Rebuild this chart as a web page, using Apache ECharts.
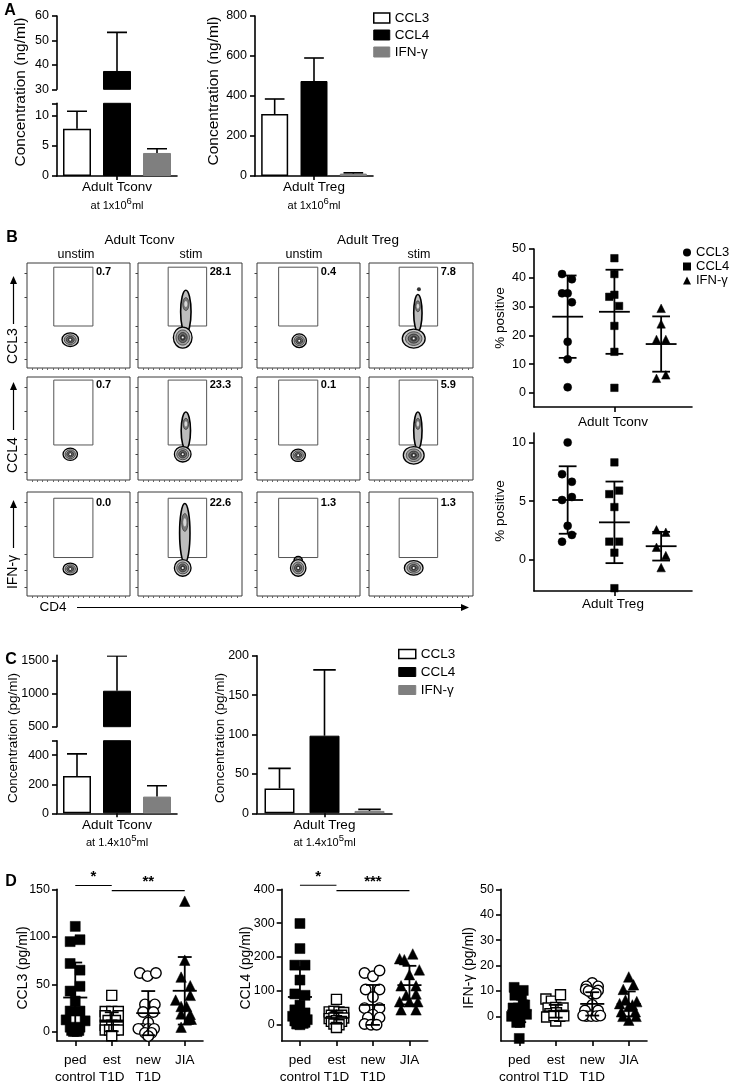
<!DOCTYPE html>
<html><head><meta charset="utf-8">
<script src="https://cdn.jsdelivr.net/npm/echarts@6/dist/echarts.min.js"></script>
<style>html,body{margin:0;padding:0;background:#fff}#c{width:739px;height:1086px}</style>
</head><body><div id="c"></div>
<script>
const FONT='"Liberation Sans", Arial, Helvetica, sans-serif';

// ================= DATA =================
// Panels A and C: bar means and SD
const barCats=['CCL3','CCL4','IFN-γ'];
const aTconvMean=[7.8,37.5,3.8];
const aTconvSD=[2.9,15.8,0.7];
const aTregMean=[310,475,12];
const aTregSD=[75,115,4];
const cTconvMean=[257,1045,115];
const cTconvSD=[152,525,75];
const cTregMean=[31.5,98.5,3];
const cTregSD=[25.5,83.5,2];
const aTconvLowTicks=[0,5,10];
const aTconvHighTicks=[30,40,50,60];
const aTregTicks=[0,200,400,600,800];
const cTconvLowTicks=[0,200,400];
const cTconvHighTicks=[500,1000,1500];
const cTregTicks=[0,50,100,150,200];

// Panel B flow plots
const flowRowNames=['CCL3','CCL4','IFN-γ'];
const flowColNames=['unstim','stim','unstim','stim'];
const flowGroupNames=['Adult Tconv','Adult Treg'];
const flowPct=[[0.7,28.1,0.4,7.8],[0.7,23.3,0.1,5.9],[0.0,22.6,1.3,1.3]];
const gateX=[[26,64],[29,66],[21,59],[29,66]];
const gateY=[[40,96],[34,97],[37,94]];
// main population: [cx, cy, halfWidth, halfHeight]
const flowBlob=[
  [[42,27,8,6.5],[43,29,9,10],[41,26,7,6.5],[43,28,11,9]],
  [[42,25,7,6],[43,25,8,7.5],[40,24,7,6],[43,24,10,8.5]],
  [[42,26,7,5.6],[43,27,8,8],[40,27,7.5,8],[43,27,9,7]]
];
// positive tail: [cx, bottom, top, halfWidth]
const flowTail=[
  [null,[46,33,74,5],null,[47,35,70,4]],
  [null,[46,30,66,4.5],null,[47,30,66,4]],
  [null,[45,32,89,5],[40,30,38,4],null]
];
const flowDots=[[[],[],[],[[48,75]]],[[],[],[],[]],[[],[],[],[]]];
const flowYTicks=[8,25,40,67,90];
const flowXTicks=[5,10,15,20,25,30,35,40,45,50,55,60,65,70,75,80,85,90,95];

// Panel B % positive: [jitter, value]
const bNames=['CCL3','CCL4','IFN-γ'];
const bTconvCCL3=[[-0.12,41.3],[0.09,39.5],[-0.12,34.6],[0,34.6],[0.09,31.5],[0,17.8],[0,11.7],[0,2.0]];
const bTconvCCL4=[[0,46.8],[0,41.3],[-0.11,33.4],[0,34.1],[0.1,30.2],[0,23.3],[0,14.3],[0,1.8]];
const bTconvIFN=[[0,29.4],[0,24.0],[-0.1,18.6],[0.1,18.6],[-0.1,5.1],[0.1,6.3]];
const bTconvMean=[26.5,28.2,17.0];
const bTconvSD=[14.3,14.6,9.6];
const bTregCCL3=[[0,10.0],[-0.12,7.3],[0.09,6.65],[-0.12,5.1],[0.09,5.35],[0,2.9],[0.09,2.13],[-0.12,1.56]];
const bTregCCL4=[[0,8.3],[-0.11,5.6],[0.1,5.9],[0,4.5],[-0.11,1.56],[0.1,1.56],[0,0.62],[0,-2.4]];
const bTregIFN=[[-0.1,2.56],[0.1,2.36],[-0.1,1.08],[0.1,0.37],[0,-0.65]];
const bTregMean=[5.1,3.2,1.17];
const bTregSD=[2.87,3.47,1.22];
const bTconvTicks=[0,10,20,30,40,50];
const bTregTicks=[0,5,10];

// Panel D: [jitter, value]
const dCats=['ped\ncontrol','est\nT1D','new\nT1D','JIA'];
const dCCL3=[
  [[0,111],[-0.14,95],[0.13,97],[-0.14,72],[0.13,65],[0.13,48],[-0.14,43],[0,32.5],[-0.14,22],[0.13,22],[-0.25,12.7],[0.27,11.7],[-0.14,5],[0.13,5],[-0.1,1.5],[0,1],[0.1,1.5],[0.05,0.5],[-0.05,0.5]],
  [[0,38.5],[-0.18,21.5],[0,21.5],[0.18,21.5],[-0.18,17],[0.18,17],[-0.1,12],[0.1,12],[-0.18,7],[0,7],[0.18,7],[-0.18,2],[-0.06,2],[0.06,2],[0.18,2],[0,-4]],
  [[-0.23,62],[-0.02,58.7],[0.21,62],[-0.09,29],[0.18,29],[-0.14,21],[0.14,21],[0,10],[-0.16,3.3],[0,3.3],[0.16,3.3],[-0.27,3.3],[-0.09,-1],[0.09,-1],[0,-4.4]],
  [[0,137.5],[0,75.5],[-0.1,57.7],[0.15,48.6],[0.15,38.5],[-0.25,33.5],[-0.1,26.8],[0.05,26.8],[-0.1,19],[0.15,18.4],[0.1,13.4],[0.18,13.4],[-0.1,5]]
];
const dCCL3Mean=[36.2,10.7,19.8,43.3];
const dCCL3SD=[36.8,10,23.2,35.5];
const dCCL4=[
  [[0,299],[0,225],[-0.14,176],[0.14,176],[0,132],[-0.14,91],[0.14,87],[0,58],[-0.14,44],[0.14,35],[0,21],[-0.14,11],[0.14,7],[-0.09,2],[0,0],[0.09,4],[0.2,15],[-0.2,25]],
  [[0,75],[-0.2,38],[-0.07,40],[0.07,38],[0.2,36],[-0.14,28],[0,25],[0.14,28],[-0.2,18],[-0.07,20],[0.07,18],[0.2,20],[-0.14,10],[0,12],[0.14,10],[-0.07,2],[0.07,0],[0,-8]],
  [[-0.23,153],[0,143],[0.18,160],[-0.2,104],[0.18,104],[0,82],[-0.23,49],[0.18,49],[0,30],[-0.14,21],[0.18,21],[-0.23,2],[-0.05,0],[0.1,0]],
  [[-0.27,195],[-0.14,192],[0.09,209],[0.27,162],[0,148],[-0.23,115],[0.18,115],[-0.09,87],[0.18,91],[-0.27,68],[0,68],[0.23,68],[-0.23,44],[0.18,44]]
];
const dCCL4Mean=[82,20,58.5,117];
const dCCL4SD=[88,17,59,57];
const dIFN=[
  [[-0.14,11.4],[0.11,10.2],[-0.12,8.3],[0.06,8.3],[0.11,4.5],[-0.17,3.3],[-0.03,3.3],[-0.21,0],[0.2,0.8],[0.02,-0.5],[-0.07,-2.4],[0.02,-2.4],[0,-8.7],[0.15,4.5],[-0.1,1],[0.1,2]],
  [[-0.27,6.8],[-0.12,6],[0.13,8.5],[-0.21,3.3],[0,3.5],[0.2,3.3],[-0.16,1],[0.02,1.4],[0.16,0.5],[-0.25,-0.25],[0,-1.8],[0.11,0],[-0.05,0.3],[0.22,0.2]],
  [[0,13.1],[-0.16,11.8],[0.16,11.8],[-0.18,10.6],[0.16,10.2],[0,8.9],[0,4.5],[-0.2,2.3],[0.16,2.3],[-0.16,0.1],[-0.03,0.1],[0.11,0.1],[0.22,0.3],[-0.25,0.3],[-0.1,10],[0.1,9]],
  [[0,15.5],[0.13,12.4],[-0.15,10.6],[0.22,5.8],[-0.09,6.4],[0,3.9],[-0.2,1.8],[0.18,1.8],[0,-1.5],[-0.16,0],[0.1,4.5],[-0.25,5],[0.2,0]]
];
const dIFNMean=[2.3,2,4.9,4.9];
const dIFNSD=[4.6,2.5,4.6,4.9];
const dCCL3Ticks=[0,50,100,150];
const dCCL4Ticks=[0,100,200,300,400];
const dIFNTicks=[0,10,20,30,40,50];
// significance: [fromGroup, toGroup, y, stars]
const dCCL3Sig=[[0,1,154,1],[1,3,148.6,2]];
const dCCL4Sig=[[0,1,412,1],[1,3,396,3]];

// ================= BUILD =================
function merge(a,b){for(const k in b){if(b[k]&&typeof b[k]==='object'&&!Array.isArray(b[k])&&a[k]&&typeof a[k]==='object')merge(a[k],b[k]);else a[k]=b[k];}return a;}
const grids=[],xAxes=[],yAxes=[],series=[],graphics=[],legends=[];
function addGrid(l,t,w,h,extra){grids.push(merge({left:l,top:t,width:w,height:h},extra||{}));return grids.length-1;}
function addX(o){xAxes.push(o);return xAxes.length-1;}
function addY(o){yAxes.push(o);return yAxes.length-1;}
function axLine(){return {show:true,onZero:false,lineStyle:{color:'#000',width:1.6}};}
function axTick(vals,len){return {show:true,length:len||5,customValues:vals,lineStyle:{color:'#000',width:1.6}};}
function axLabel(vals,fs,margin){return {show:true,customValues:vals,formatter:(v)=>String(v),color:'#000',fontSize:fs||12.5,fontFamily:FONT,margin:margin||8};}
function valY(g,min,max,ticks,labels,extra){
  return addY(merge({type:'value',gridIndex:g,min:min,max:max,splitLine:{show:false},axisLine:axLine(),axisTick:axTick(ticks),axisLabel:axLabel(labels)},extra||{}));
}
const barStyle=[
  {color:'#fff',borderColor:'#000',borderWidth:1.5},
  {color:'#000',borderColor:'#000',borderWidth:1},
  {color:'#7f7f7f',borderColor:'#7f7f7f',borderWidth:1}
];
function errUp(params,api){
  const x=api.value(0),m=api.value(1),s=api.value(2);
  const p0=api.coord([x,m]),p1=api.coord([x,m+s]);
  const hw=api.size([1,0])[0]*0.25;
  const st={stroke:'#000',lineWidth:1.6};
  return {type:'group',children:[
    {type:'line',shape:{x1:p0[0],y1:p0[1],x2:p1[0],y2:p1[1]},style:st},
    {type:'line',shape:{x1:p1[0]-hw,y1:p1[1],x2:p1[0]+hw,y2:p1[1]},style:st}
  ]};
}
function addBars(xi,yi,means,sds,w,idxs){
  idxs.forEach(i=>{
    series.push({type:'bar',name:barCats[i],xAxisIndex:xi,yAxisIndex:yi,barWidth:w,barGap:'-100%',
      data:means.map((v,j)=>j===i?v:'-'),itemStyle:barStyle[i],silent:true});
  });
  series.push({type:'custom',xAxisIndex:xi,yAxisIndex:yi,clip:true,silent:true,z:5,renderItem:errUp,
    data:means.map((m,i)=>[i,m,sds[i]])});
}
function richName(){return {rich:{
  t:{fontSize:13.5,fontFamily:FONT,color:'#000',lineHeight:17},
  s:{fontSize:11,fontFamily:FONT,color:'#000',lineHeight:15,verticalAlign:'bottom'},
  sup:{fontSize:9.5,fontFamily:FONT,color:'#000',verticalAlign:'top'}}};}
function barXAxis(g,title,conc,exp){
  return addX({type:'category',gridIndex:g,data:barCats,axisLine:axLine(),
    axisTick:{show:true,alignWithLabel:true,interval:(i)=>i===1,length:4,lineStyle:{color:'#000',width:1.6}},
    axisLabel:{show:false},name:'{t|'+title+'}\n{s|at '+conc+'}{sup|'+exp+'}{s|ml}',
    nameLocation:'middle',nameGap:3,nameTextStyle:richName()});
}
function hiddenCat(g){return addX({type:'category',gridIndex:g,data:barCats,show:false});}
function gtext(text,x,y,o){graphics.push(merge({type:'text',x:x,y:y,silent:true,style:{text:text,fill:'#000',fontSize:13,fontFamily:FONT,align:'center',verticalAlign:'middle'}},o||{}));}
function vtext(text,x,y,fs){gtext(text,x,y,{rotation:Math.PI/2,style:{fontSize:fs}});}

// ---- Panel A ----
let g,xi,yi;
g=addGrid(57,103.3,120,72.7);
xi=barXAxis(g,'Adult Tconv','1x10','6');
yi=valY(g,0,12,[0,5,10,12],aTconvLowTicks);
addBars(xi,yi,aTconvMean,aTconvSD,28,[0,1,2]);
g=addGrid(57,16,120,73.3);
xi=hiddenCat(g);
yi=valY(g,30,60,aTconvHighTicks,aTconvHighTicks);
addBars(xi,yi,aTconvMean,aTconvSD,28,aTconvMean.map((v,i)=>i).filter(i=>aTconvMean[i]>12));
vtext('Concentration (ng/ml)',21,92,15.5);

g=addGrid(255,16,118,160);
xi=barXAxis(g,'Adult Treg','1x10','6');
yi=valY(g,0,800,aTregTicks,aTregTicks);
addBars(xi,yi,aTregMean,aTregSD,27,[0,1,2]);
vtext('Concentration (ng/ml)',213.5,91,15.5);

function barLegend(left,top,w,h,gap){
  legends.push({left:left,top:top,orient:'vertical',padding:0,itemWidth:w,itemHeight:h,itemGap:gap,selectedMode:false,
    textStyle:{fontSize:13.5,fontFamily:FONT,color:'#000'},
    data:barCats.map((n,i)=>({name:n,icon:'rect',itemStyle:barStyle[i]}))});
}
barLegend(373,11,16,10,3);

// ---- Panel B flow ----
const flowColLeft=[27,138,257,369],flowColW=[103,104,103,104];
const flowRowTop=[263,377,492],flowRowH=[105,103,104];
function gateItem(params,api){
  const p0=api.coord([api.value(0),api.value(3)]),p1=api.coord([api.value(1),api.value(2)]);
  return {type:'group',children:[
    {type:'rect',shape:{x:p0[0],y:p0[1],width:p1[0]-p0[0],height:p1[1]-p0[1]},style:{fill:'none',stroke:'#555',lineWidth:1}},
    {type:'text',x:p1[0]+3,y:p0[1]-1,style:{text:api.value(4).toFixed(1),fill:'#000',fontSize:11,fontWeight:'bold',fontFamily:FONT,align:'left',verticalAlign:'top'}}
  ]};
}
function blobItem(params,api){
  const c=api.coord([api.value(0),api.value(1)]);
  const s=api.size([api.value(2),api.value(3)]);
  const ks=[1,0.72,0.48,0.26],fills=['#cdcdcd','#9c9c9c','#6c6c6c','#3c3c3c'],lws=[1.3,0.7,0.7,0.6];
  const ch=ks.map((k,i)=>({type:'ellipse',shape:{cx:c[0],cy:c[1],rx:s[0]*k,ry:s[1]*k},style:{fill:fills[i],stroke:i===0?'#000':'#222',lineWidth:lws[i]}}));
  ch.push({type:'circle',shape:{cx:c[0],cy:c[1],r:1},style:{fill:'#fff'}});
  return {type:'group',children:ch};
}
function tailItem(params,api){
  const cx=api.value(0),yb=api.value(1),yt=api.value(2),hw=api.value(3);
  const c=api.coord([cx,(yb+yt)/2]);const s=api.size([hw,(yt-yb)/2]);
  const ci=api.coord([cx,yb+(yt-yb)*0.68]);
  return {type:'group',children:[
    {type:'ellipse',shape:{cx:c[0],cy:c[1],rx:s[0],ry:s[1]},style:{fill:'#bdbdbd',stroke:'#000',lineWidth:1.6}},
    {type:'ellipse',shape:{cx:ci[0],cy:ci[1],rx:s[0]*0.6,ry:s[1]*0.3},style:{fill:'#7a7a7a',stroke:'#222',lineWidth:0.6}},
    {type:'ellipse',shape:{cx:ci[0],cy:ci[1],rx:s[0]*0.3,ry:s[1]*0.14},style:{fill:'#d8d8d8'}}
  ]};
}
for(let r=0;r<3;r++){
  for(let c=0;c<4;c++){
    g=addGrid(flowColLeft[c],flowRowTop[r],flowColW[c],flowRowH[r],{show:true,borderColor:'#3a3a3a',borderWidth:1});
    xi=addX({type:'value',gridIndex:g,min:0,max:100,splitLine:{show:false},axisLine:{show:false,onZero:false},axisLabel:{show:false},
      axisTick:{show:true,length:2,customValues:flowXTicks,lineStyle:{color:'#666',width:1}}});
    yi=addY({type:'value',gridIndex:g,min:0,max:100,splitLine:{show:false},axisLine:{show:false,onZero:false},axisLabel:{show:false},
      axisTick:{show:true,length:2.5,customValues:flowYTicks,lineStyle:{color:'#444',width:1}}});
    series.push({type:'custom',xAxisIndex:xi,yAxisIndex:yi,silent:true,renderItem:gateItem,
      data:[[gateX[c][0],gateX[c][1],gateY[r][0],gateY[r][1],flowPct[r][c]]]});
    if(flowTail[r][c]) series.push({type:'custom',xAxisIndex:xi,yAxisIndex:yi,silent:true,renderItem:tailItem,data:[flowTail[r][c]]});
    series.push({type:'custom',xAxisIndex:xi,yAxisIndex:yi,silent:true,renderItem:blobItem,data:[flowBlob[r][c]]});
    if(flowDots[r][c].length) series.push({type:'scatter',xAxisIndex:xi,yAxisIndex:yi,silent:true,symbolSize:4,itemStyle:{color:'#000'},data:flowDots[r][c]});
  }
}
gtext('B',12,238,{style:{fontSize:16,fontWeight:'bold'}});
gtext(flowGroupNames[0],139.5,240,{style:{fontSize:13.5}});
gtext(flowGroupNames[1],368,240,{style:{fontSize:13.5}});
[76,191,304,419].forEach((x,i)=>gtext(flowColNames[i],x,255,{style:{fontSize:12.5}}));
function arrowUp(x,yFrom,yTo){
  graphics.push({type:'line',silent:true,shape:{x1:x,y1:yFrom,x2:x,y2:yTo+5},style:{stroke:'#000',lineWidth:1.2}});
  graphics.push({type:'polygon',silent:true,shape:{points:[[x,yTo],[x-3.5,yTo+8],[x+3.5,yTo+8]]},style:{fill:'#000'}});
}
vtext(flowRowNames[0],13.5,346,14); arrowUp(13.5,324,276);
vtext(flowRowNames[1],13.5,455,14); arrowUp(13.5,430,382);
vtext(flowRowNames[2],13.5,572,14); arrowUp(13.5,548,500);
gtext('CD4',53,607,{style:{fontSize:13.5}});
graphics.push({type:'line',silent:true,shape:{x1:77,y1:607.5,x2:463,y2:607.5},style:{stroke:'#000',lineWidth:1.2}});
graphics.push({type:'polygon',silent:true,shape:{points:[[469,607.5],[461,604],[461,611]]},style:{fill:'#000'}});

// ---- Panel B scatter ----
function meanSD(params,api){
  const x=api.value(0),m=api.value(1),s=api.value(2);
  const pm=api.coord([x,m]),pt=api.coord([x,m+s]),pb=api.coord([x,m-s]);
  const u=api.size([1,0])[0];const mh=0.33*u,ch=0.19*u;
  const st={stroke:'#000',lineWidth:1.8};
  return {type:'group',children:[
    {type:'line',shape:{x1:pm[0]-mh,y1:pm[1],x2:pm[0]+mh,y2:pm[1]},style:st},
    {type:'line',shape:{x1:pt[0],y1:pt[1],x2:pb[0],y2:pb[1]},style:st},
    {type:'line',shape:{x1:pt[0]-ch,y1:pt[1],x2:pt[0]+ch,y2:pt[1]},style:st},
    {type:'line',shape:{x1:pb[0]-ch,y1:pb[1],x2:pb[0]+ch,y2:pb[1]},style:st}
  ]};
}
function addGroups(xi,yi,groups,names,symbols,sizes,fills,means,sds){
  groups.forEach((pts,i)=>{
    series.push({type:'scatter',name:names[i],xAxisIndex:xi,yAxisIndex:yi,silent:true,symbol:symbols[i],symbolSize:sizes[i],
      itemStyle:{color:fills[i],borderColor:'#000',borderWidth:fills[i]==='#fff'?1.4:0.5,opacity:1},z:2,
      data:pts.map(p=>[i+p[0],p[1]])});
  });
  series.push({type:'custom',xAxisIndex:xi,yAxisIndex:yi,silent:true,z:4,renderItem:meanSD,data:means.map((m,i)=>[i,m,sds[i]])});
}
function bX(g,name,gap){
  return addX({type:'value',gridIndex:g,min:-0.72,max:2.66,splitLine:{show:false},axisLine:axLine(),
    axisTick:axTick([1],5),axisLabel:{show:false},name:name,nameLocation:'middle',nameGap:gap,
    nameTextStyle:{fontSize:13.5,fontFamily:FONT,color:'#000'}});
}
const bSym=['circle','rect','triangle'],bSize=[8,7.5,8.5],bFill=['#000','#000','#000'];
g=addGrid(534,249,158,158);
xi=bX(g,flowGroupNames[0],8);
yi=valY(g,-4.86,50,bTconvTicks,bTconvTicks);
addGroups(xi,yi,[bTconvCCL3,bTconvCCL4,bTconvIFN],bNames,bSym,bSize,bFill,bTconvMean,bTconvSD);
vtext('% positive',500,318,13.5);
g=addGrid(534,433,158,158);
xi=bX(g,flowGroupNames[1],6);
yi=valY(g,-2.64,10.8,bTregTicks,bTregTicks);
addGroups(xi,yi,[bTregCCL3,bTregCCL4,bTregIFN],bNames,bSym,bSize,bFill,bTregMean,bTregSD);
vtext('% positive',500,511,13.5);
legends.push({left:683,top:246,orient:'vertical',padding:0,itemWidth:8,itemHeight:8,itemGap:1,selectedMode:false,
  textStyle:{fontSize:13,fontFamily:FONT,color:'#000'},
  data:bNames.map((n,i)=>({name:n,icon:bSym[i],itemStyle:{color:'#000',borderWidth:0}}))});

// ---- Panel C ----
g=addGrid(57,740.7,120,72.6);
xi=barXAxis(g,'Adult Tconv','1.4x10','5');
yi=valY(g,0,500,[0,200,400,500],cTconvLowTicks);
addBars(xi,yi,cTconvMean,cTconvSD,28,[0,1,2]);
g=addGrid(57,655.4,120,71.3);
xi=hiddenCat(g);
yi=valY(g,500,1580,cTconvHighTicks,cTconvHighTicks);
addBars(xi,yi,cTconvMean,cTconvSD,28,cTconvMean.map((v,i)=>i).filter(i=>cTconvMean[i]>500));
vtext('Concentration (pg/ml)',13,738,13.5);
g=addGrid(257,655.7,135,157.6);
xi=barXAxis(g,'Adult Treg','1.4x10','5');
yi=valY(g,0,200,cTregTicks,cTregTicks);
addBars(xi,yi,cTregMean,cTregSD,30,[0,1,2]);
vtext('Concentration (pg/ml)',220,738,13.5);
barLegend(398,647,17,9,4);

// ---- Panel D ----
function sigItem(params,api){
  const a=api.coord([api.value(0),api.value(2)]),b=api.coord([api.value(1),api.value(2)]);
  const n=api.value(3);
  return {type:'group',children:[
    {type:'line',shape:{x1:a[0],y1:a[1],x2:b[0],y2:b[1]},style:{stroke:'#000',lineWidth:1.2}},
    {type:'text',x:(a[0]+b[0])/2,y:a[1]-1,style:{text:'*'.repeat(n),fill:'#000',fontSize:15,fontWeight:'bold',fontFamily:FONT,align:'center',verticalAlign:'bottom'}}
  ]};
}
const dSym=['rect','rect','circle','triangle'],dSize=[10,10,10.5,10.5],dFill=['#000','#fff','#fff','#000'];
function dPlot(left,min,max,ticks,groups,means,sds,sig,title,tx){
  const g=addGrid(left,889.3,146,158.4);
  const xi=addX({type:'value',gridIndex:g,min:-0.5,max:3.5,splitLine:{show:false},axisLine:axLine(),
    axisTick:axTick([0,1,2,3],5),
    axisLabel:{show:true,customValues:[0,1,2,3],formatter:(v)=>dCats[Math.round(v)],color:'#000',fontSize:13.5,lineHeight:17,fontFamily:FONT,margin:11}});
  const yi=addY({type:'value',gridIndex:g,min:min,max:max,splitLine:{show:false},axisLine:axLine(),axisTick:axTick(ticks,5),axisLabel:axLabel(ticks,12.5,7)});
  addGroups(xi,yi,groups,['g0','g1','g2','g3'],dSym,dSize,dFill,means,sds);
  if(sig) series.push({type:'custom',xAxisIndex:xi,yAxisIndex:yi,silent:true,clip:false,renderItem:sigItem,data:sig});
  vtext(title,tx,968,14);
}
dPlot(57,-9.5,150,dCCL3Ticks,dCCL3,dCCL3Mean,dCCL3SD,dCCL3Sig,'CCL3 (pg/ml)',23);
dPlot(281.7,-48,400,dCCL4Ticks,dCCL4,dCCL4Mean,dCCL4SD,dCCL4Sig,'CCL4 (pg/ml)',246);
dPlot(501,-9.7,50,dIFNTicks,dIFN,dIFNMean,dIFNSD,null,'IFN-γ (pg/ml)',469.5);

// panel letters
gtext('A',10,11,{style:{fontSize:16,fontWeight:'bold'}});
gtext('C',11,660,{style:{fontSize:16,fontWeight:'bold'}});
gtext('D',11,882,{style:{fontSize:16,fontWeight:'bold'}});

const chart=echarts.init(document.getElementById('c'),null,{renderer:'canvas'});
chart.setOption({
  animation:false,
  backgroundColor:'#fff',
  textStyle:{fontFamily:FONT},
  grid:grids,xAxis:xAxes,yAxis:yAxes,series:series,legend:legends,
  graphic:{elements:graphics}
});
</script></body></html>
